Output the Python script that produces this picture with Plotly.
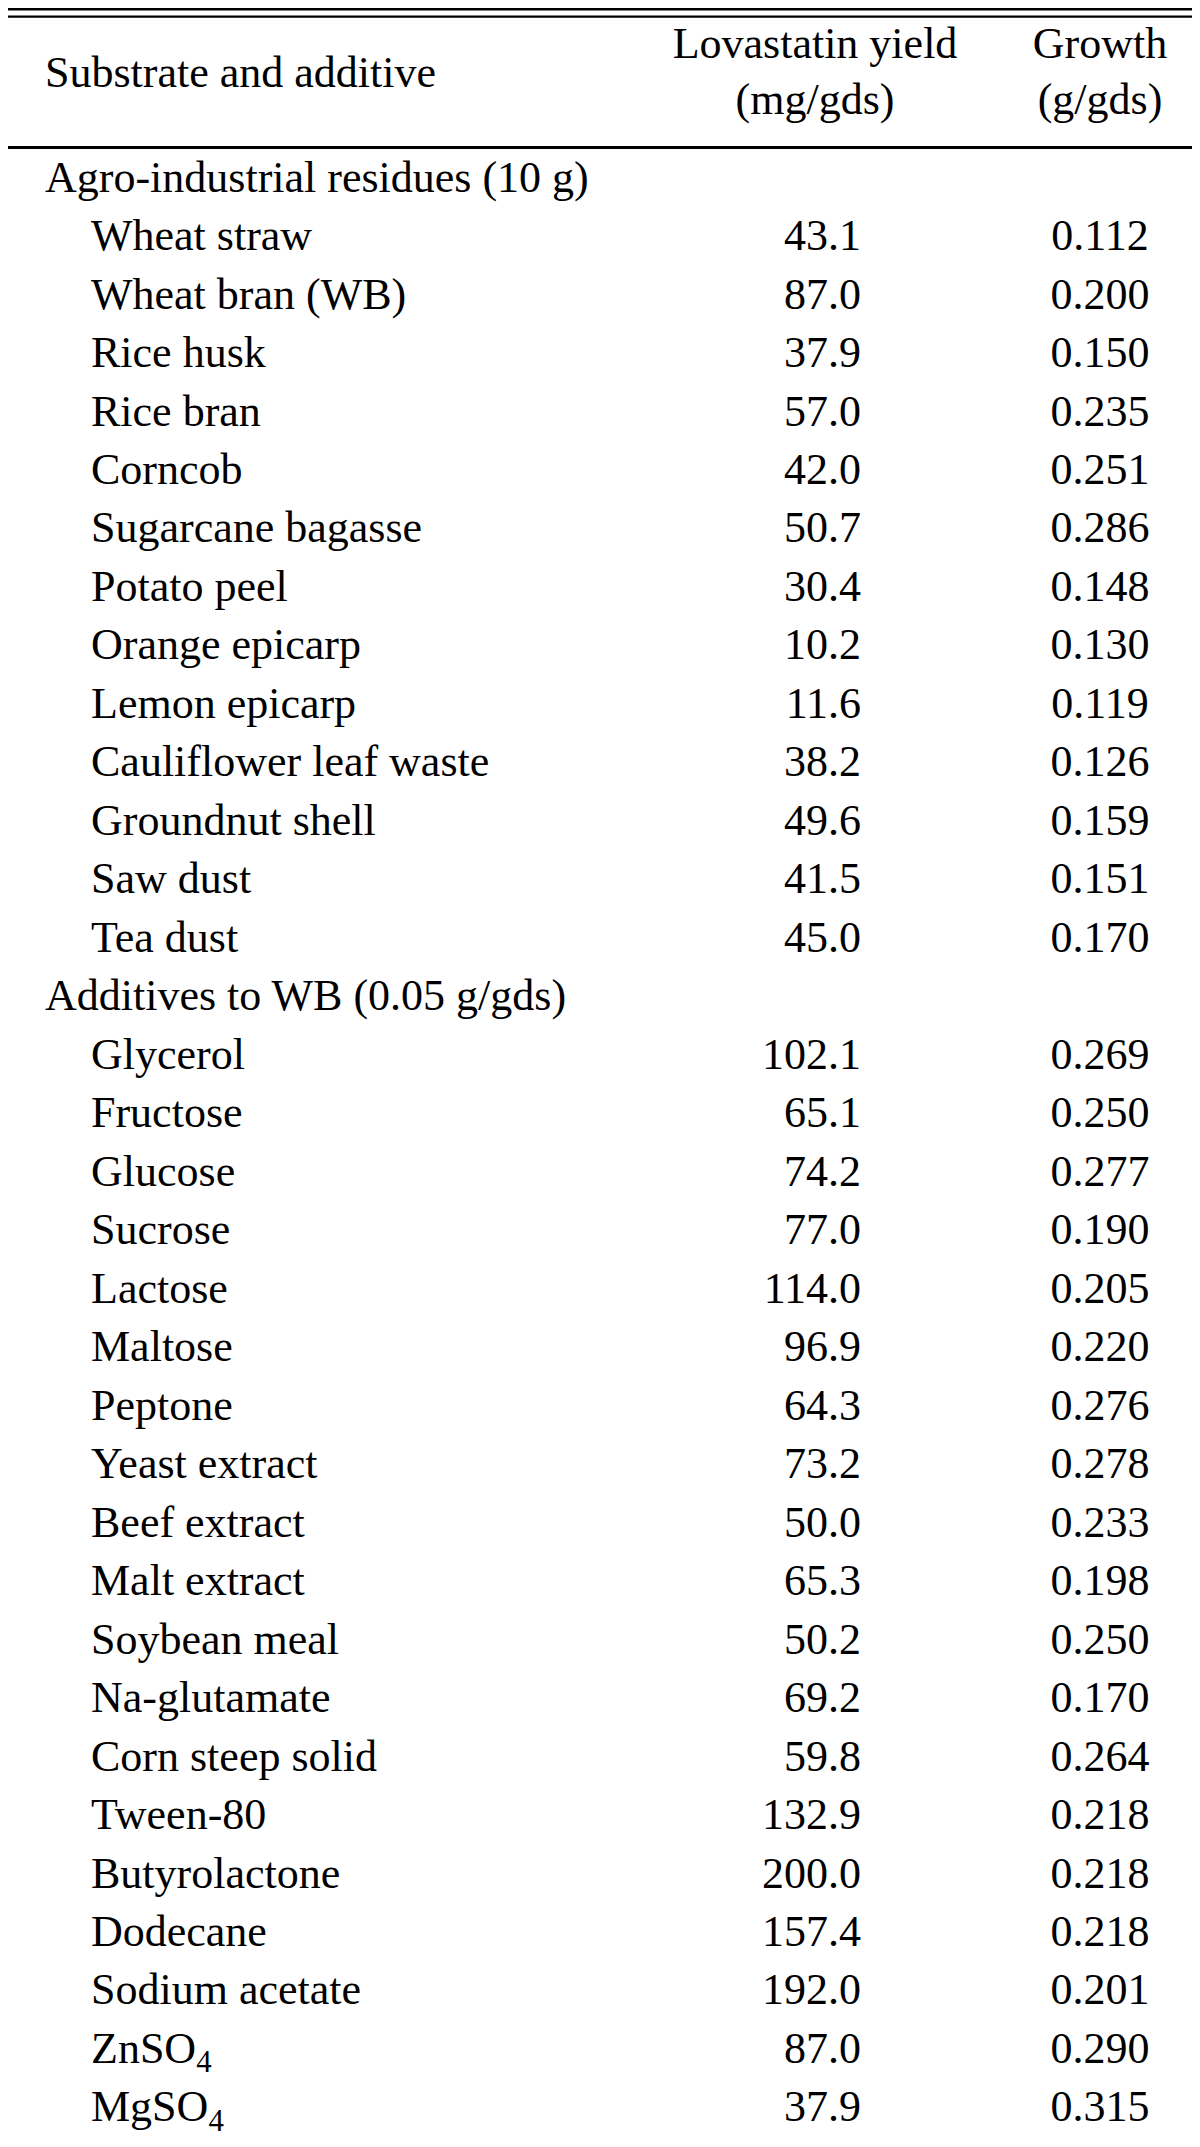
import plotly.graph_objects as go

# ---------------- data ----------------
group_titles = ["Agro-industrial residues (10 g)", "Additives to WB (0.05 g/gds)"]

agro_items = ["Wheat straw", "Wheat bran (WB)", "Rice husk", "Rice bran", "Corncob",
              "Sugarcane bagasse", "Potato peel", "Orange epicarp", "Lemon epicarp",
              "Cauliflower leaf waste", "Groundnut shell", "Saw dust", "Tea dust"]
agro_yield = [43.1, 87.0, 37.9, 57.0, 42.0, 50.7, 30.4, 10.2, 11.6, 38.2, 49.6, 41.5, 45.0]
agro_growth = [0.112, 0.200, 0.150, 0.235, 0.251, 0.286, 0.148, 0.130, 0.119, 0.126,
               0.159, 0.151, 0.170]

additive_items = ["Glycerol", "Fructose", "Glucose", "Sucrose", "Lactose", "Maltose",
                  "Peptone", "Yeast extract", "Beef extract", "Malt extract", "Soybean meal",
                  "Na-glutamate", "Corn steep solid", "Tween-80", "Butyrolactone",
                  "Dodecane", "Sodium acetate", "ZnSO<sub>4</sub>", "MgSO<sub>4</sub>"]
additive_yield = [102.1, 65.1, 74.2, 77.0, 114.0, 96.9, 64.3, 73.2, 50.0, 65.3, 50.2,
                  69.2, 59.8, 132.9, 200.0, 157.4, 192.0, 87.0, 37.9]
additive_growth = [0.269, 0.250, 0.277, 0.190, 0.205, 0.220, 0.276, 0.278, 0.233, 0.198,
                   0.250, 0.170, 0.264, 0.218, 0.218, 0.218, 0.201, 0.290, 0.315]

header_labels = ["Substrate and additive", "Lovastatin yield", "(mg/gds)", "Growth", "(g/gds)"]

# ---------------- layout constants ----------------
W, H = 1200, 2147
FS = 44
FONT = "Liberation Serif"
MID = 0.35 * FS + 2      # baseline offset for middle-aligned text
ROW0 = 190               # baseline of first body row
STEP = 58.48             # row pitch
X_GROUP, X_ITEM = 37, 83
X_YIELD_RIGHT = 853
X_GROWTH_CENTER = 1092
X_HEAD_YIELD = 807
X_HEAD_GROWTH = 1092

# build body rows
rows = []  # (label, indent, yield, growth)
for title, items, ys, gs in [(group_titles[0], agro_items, agro_yield, agro_growth),
                             (group_titles[1], additive_items, additive_yield, additive_growth)]:
    rows.append((title, False, None, None))
    for it, yv, gv in zip(items, ys, gs):
        rows.append((it, True, yv, gv))

def yb(i):
    return ROW0 + i * STEP - MID

font = dict(family=FONT, size=FS, color="black")
fig = go.Figure()

# labels (group titles)
gi = [i for i, r in enumerate(rows) if not r[1]]
fig.add_trace(go.Scatter(x=[X_GROUP] * len(gi), y=[yb(i) for i in gi],
                         text=[rows[i][0] for i in gi], mode="text",
                         textposition="middle right", textfont=font, hoverinfo="skip"))
# labels (items)
ii = [i for i, r in enumerate(rows) if r[1]]
fig.add_trace(go.Scatter(x=[X_ITEM] * len(ii), y=[yb(i) for i in ii],
                         text=[rows[i][0] for i in ii], mode="text",
                         textposition="middle right", textfont=font, hoverinfo="skip"))
# yield column
fig.add_trace(go.Scatter(x=[X_YIELD_RIGHT] * len(ii), y=[yb(i) for i in ii],
                         text=[f"{rows[i][2]:.1f}" for i in ii], mode="text",
                         textposition="middle left", textfont=font, hoverinfo="skip"))
# growth column
fig.add_trace(go.Scatter(x=[X_GROWTH_CENTER] * len(ii), y=[yb(i) for i in ii],
                         text=[f"{rows[i][3]:.3f}" for i in ii], mode="text",
                         textposition="middle center", textfont=font, hoverinfo="skip"))

# header
fig.add_trace(go.Scatter(x=[X_GROUP], y=[85 - MID], text=[header_labels[0]], mode="text",
                         textposition="middle right", textfont=font, hoverinfo="skip"))
fig.add_trace(go.Scatter(x=[X_HEAD_YIELD, X_HEAD_YIELD, X_HEAD_GROWTH, X_HEAD_GROWTH],
                         y=[56 - MID, 112 - MID, 56 - MID, 112 - MID],
                         text=header_labels[1:], mode="text",
                         textposition="middle center", textfont=font, hoverinfo="skip"))

# rules
rules = [(1.3, 2.6), (8.6, 2.2), (139.5, 3.2), (2145.4, 3.4)]
for y, w in rules:
    fig.add_shape(type="line", x0=0, x1=W, y0=y, y1=y, xref="x", yref="y",
                  line=dict(color="black", width=w), layer="above")

fig.update_layout(
    width=W, height=H, margin=dict(l=0, r=0, t=0, b=0),
    paper_bgcolor="white", plot_bgcolor="white", showlegend=False,
    xaxis=dict(range=[0, W], visible=False, fixedrange=True),
    yaxis=dict(range=[H, 0], visible=False, fixedrange=True),
)
fig.write_html("out.html", config={"displayModeBar": False})
